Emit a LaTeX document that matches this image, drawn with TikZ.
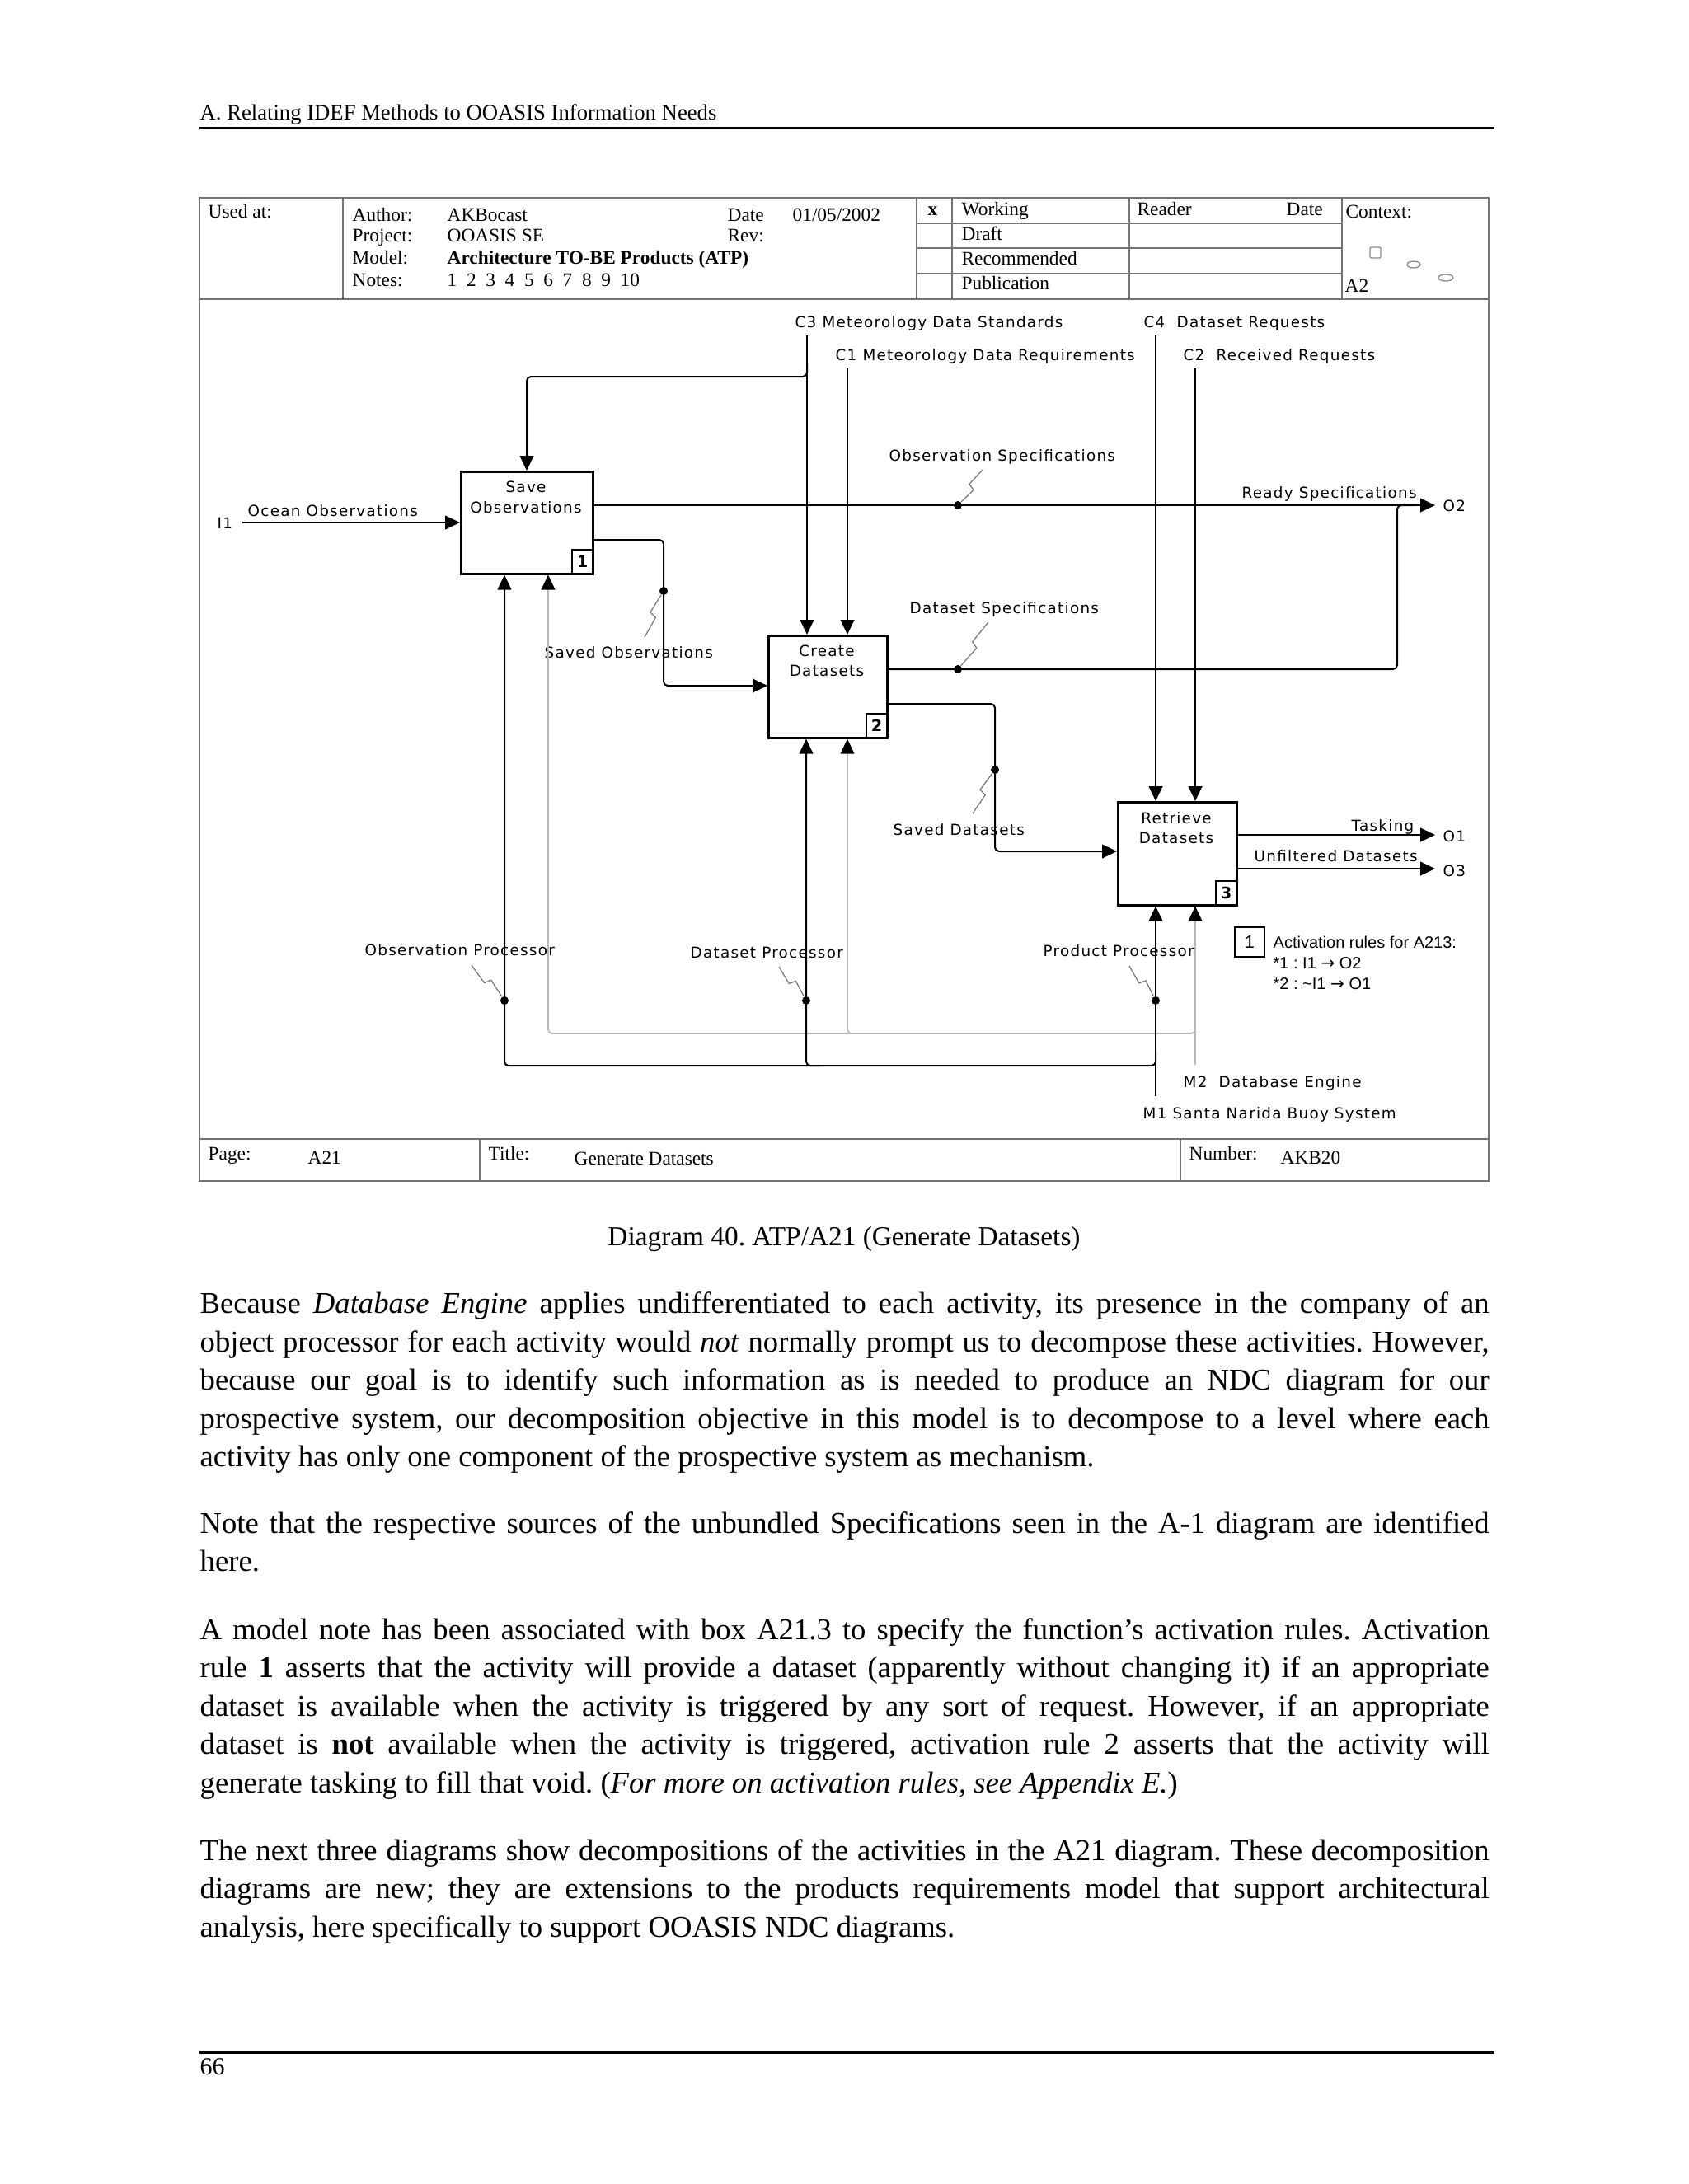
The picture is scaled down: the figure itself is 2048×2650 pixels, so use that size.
\documentclass[tikz,border=0pt]{standalone}
\usepackage{fontspec}
\setmainfont{Liberation Serif}
\newfontfamily\dvfont[LetterSpace=7]{DejaVu Sans}
\newfontfamily\dvplain{DejaVu Sans}
\newfontfamily\arfont{Liberation Sans}
\usetikzlibrary{arrows.meta,calc}
\frenchspacing
\newcommand\zig[2]{\draw[sq] (#1) -- ($(#1)!0.5!(#2)!1.5pt!-90:(#2)$) -- ($(#1)!0.55!(#2)!1pt!90:(#2)$) -- (#2);}
\tikzset{
  lbl/.style={font=\dvfont\fontsize{5.5}{6.6}\selectfont, inner sep=0pt, anchor=base west},
  boxlbl/.style={font=\dvfont\fontsize{5.5}{6.6}\selectfont, inner sep=0pt, anchor=base},
  hdr/.style={font=\fontsize{7}{8}\selectfont, inner sep=0pt, anchor=base west},
  abox/.style={draw, line width=0.75pt, inner sep=0pt, anchor=north west},
  numbox/.style={draw, line width=0.6pt, inner sep=0pt, minimum width=7.8pt, minimum height=9pt, anchor=south east, font=\dvplain\bfseries\fontsize{5.8}{6}\selectfont},
  ln/.style={line width=0.6pt, black},
  gln/.style={line width=0.5pt, color=black!28},
  dot/.style={circle, fill=black, inner sep=0pt, minimum size=3pt},
  sq/.style={line width=0.35pt, color=black!55},
  frame/.style={line width=0.55pt, color=black!55},
  body/.style={font=\fontsize{11}{13.94}\selectfont, text width=469.1pt, align=justify, inner sep=0pt, anchor=north west,
    execute at begin node={\frenchspacing\tolerance=10000\hyphenpenalty=10000\exhyphenpenalty=10000}},
  note/.style={font=\arfont\fontsize{6}{7}\selectfont, inner sep=0pt, anchor=base west},
  >={Triangle[length=5.4pt,width=5pt,color=black]},
}
\begin{document}
\begin{tikzpicture}[x=0.29994pt,y=-0.29994pt]
\fill[white] (0,0) rectangle (2048,2650);
\useasboundingbox (0,0) rectangle (2048,2650);

% ---------- page header ----------
\node[font=\fontsize{8}{9.6}\selectfont, inner sep=0pt, anchor=base west] (phead) at (242,145) {A. Relating IDEF Methods to OOASIS Information Needs};
\draw[line width=0.9pt] (242,155) -- (1813,155);

% ---------- diagram frame ----------
\draw[frame] (242,240) rectangle (1806,1433);
\draw[frame] (242,363) -- (1806,363);
\draw[frame] (416,240) -- (416,363);
\draw[frame] (1112,240) -- (1112,363);
\draw[frame] (1155,240) -- (1155,363);
\draw[frame] (1370,240) -- (1370,363);
\draw[frame] (1628,240) -- (1628,363);
\foreach \yy in {271,301,332} \draw[frame] (1112,\yy) -- (1628,\yy);
\draw[frame] (242,1382) -- (1806,1382);
\draw[frame] (582,1382) -- (582,1433);
\draw[frame] (1432,1382) -- (1432,1433);

% header text
\node[hdr] (hused) at (252,264) {Used at:};
\node[hdr] (hauth) at (427,268) {Author:};
\node[hdr] (hproj) at (427,293) {Project:};
\node[hdr] (hmod) at (427,320) {Model:};
\node[hdr] (hnot) at (427,347) {Notes:};
\node[hdr] (vauth) at (542,268) {AKBocast};
\node[hdr] (vproj) at (542,293) {OOASIS SE};
\node[hdr, font=\bfseries\fontsize{7}{8}\selectfont] (vmod) at (542,320) {Architecture TO-BE Products (ATP)};
\node[hdr] (vnot) at (542,347) {1~~2~~3~~4~~5~~6~~7~~8~~9~~10};
\node[hdr] (hdate) at (882,268) {Date};
\node[hdr] (vdate) at (961,268) {01/05/2002};
\node[hdr] (hrev) at (882,293) {Rev:};
\node[hdr, font=\bfseries\fontsize{7}{8}\selectfont] (hx) at (1125,261) {x};
\node[hdr] (hwork) at (1166,261) {Working};
\node[hdr] (hdraft) at (1166,291) {Draft};
\node[hdr] (hrec) at (1166,321) {Recommended};
\node[hdr] (hpub) at (1166,351) {Publication};
\node[hdr] (hread) at (1379,261) {Reader};
\node[hdr] (hdate2) at (1560,261) {Date};
\node[hdr] (hctx) at (1632,264) {Context:};
\node[hdr] (hA2) at (1631,354) {A2};
\draw[line width=0.4pt, black!45, rounded corners=0.4pt] (1662,300) rectangle (1675,313);
\draw[line width=0.4pt, black!45] (1715,321) ellipse (8 and 4);
\draw[line width=0.4pt, black!45] (1754,337) ellipse (9 and 4);

% bottom bar text
\node[hdr] (hpage) at (252,1407) {Page:};
\node[hdr] (vpage) at (373,1412) {A21};
\node[hdr] (htitle) at (592,1407) {Title:};
\node[hdr] (vtitle) at (696,1413) {Generate Datasets};
\node[hdr] (hnum) at (1442,1407) {Number:};
\node[hdr] (vnum) at (1553,1412) {AKB20};

% ---------- activity boxes ----------
\node[abox, minimum width=48pt, minimum height=37.2pt] (b1) at (558,571) {};
\node[abox, minimum width=43.2pt, minimum height=37.2pt] (b2) at (931,770) {};
\node[abox, minimum width=43.2pt, minimum height=37.5pt] (b3) at (1355,972) {};
\node[numbox] (n1) at (b1.south east) {1};
\node[numbox] (n2) at (b2.south east) {2};
\node[numbox] (n3) at (b3.south east) {3};
\node[boxlbl] (b1a) at (638,597) {Save};
\node[boxlbl] (b1b) at (638,622) {Observations};
\node[boxlbl] (b2a) at (1003,796) {Create};
\node[boxlbl] (b2b) at (1003,820) {Datasets};
\node[boxlbl] (b3a) at (1427,999) {Retrieve};
\node[boxlbl] (b3b) at (1427,1023) {Datasets};

% ---------- labels ----------
\node[lbl] (tC3) at (964,397) {C3 Meteorology Data Standards};
\node[lbl] (tC1) at (1013,437) {C1 Meteorology Data Requirements};
\node[lbl] (tC4) at (1387,397) {C4\ \ Dataset Requests};
\node[lbl] (tC2) at (1435,437) {C2\ \ Received Requests};
\node[lbl] (tOS) at (1078,559) {Observation Specifications};
\node[lbl] (tRS) at (1506,604) {Ready Specifications};
\node[lbl] (tO2) at (1750,620) {O2};
\node[lbl] (tOO) at (300,626) {Ocean Observations};
\node[lbl] (tI1) at (263,641) {I1};
\node[lbl] (tSO) at (660,798) {Saved Observations};
\node[lbl] (tDS) at (1103,744) {Dataset Specifications};
\node[lbl] (tSD) at (1083,1013) {Saved Datasets};
\node[lbl] (tTk) at (1639,1008) {Tasking};
\node[lbl] (tO1) at (1750,1021) {O1};
\node[lbl] (tUD) at (1521,1045) {Unfiltered Datasets};
\node[lbl] (tO3) at (1750,1063) {O3};
\node[lbl] (tOP) at (442,1159) {Observation Processor};
\node[lbl] (tDP) at (837,1162) {Dataset Processor};
\node[lbl] (tPP) at (1265,1160) {Product Processor};
\node[lbl] (tM2) at (1435,1319) {M2\ \ Database Engine};
\node[lbl] (tM1) at (1386,1357) {M1 Santa Narida Buoy System};

% free ends
\coordinate (I1e) at (294,634);
\coordinate (C3s) at (979,407);
\coordinate (C1s) at (1028,447);
\coordinate (C4s) at (1402,407);
\coordinate (C2s) at (1450,447);
\coordinate (O2e) at (1741,613);
\coordinate (O1e) at (1741,1013);
\coordinate (O3e) at (1741,1054);
\coordinate (M1s) at (1402,1330);
\coordinate (M2s) at (1450,1292);

% ---------- connectors ----------
\draw[ln,->] (I1e) -- (I1e -| b1.west);
\draw[ln,->] (b1.east |- 0,613) -- (O2e);
\draw[ln,->,rounded corners=1.5pt] (b1.east |- 0,655) -- (805,655) -- (805,832) -- (b2.west |- 0,832);
\draw[ln,->] (C3s) -- (C3s |- b2.north);
\draw[ln,->,rounded corners=1.5pt] (979,440) -- (979,457) -- (639,457) -- (639,0 |- b1.north);
\draw[ln,->] (C1s) -- (C1s |- b2.north);
\draw[ln,rounded corners=1.5pt] (b2.east |- 0,812) -- (1695,812) -- (1695,613) -- (1715,613);
\draw[ln,->,rounded corners=1.5pt] (b2.east |- 0,854) -- (1207,854) -- (1207,1033) -- (b3.west |- 0,1033);
\draw[ln,->] (C4s) -- (C4s |- b3.north);
\draw[ln,->] (C2s) -- (C2s |- b3.north);
\draw[ln,->] (b3.east |- 0,1013) -- (O1e);
\draw[ln,->] (b3.east |- 0,1054) -- (O3e);
% mechanisms
\draw[gln,->] (M2s) -- (M2s |- b3.south);
\draw[gln,->,rounded corners=1.5pt] (1450,1238) -- (1450,1254) -- (665,1254) -- (665,0 |- b1.south);
\draw[gln,->,rounded corners=1.5pt] (1045,1254) -- (1028,1254) -- (1028,0 |- b2.south);
\draw[ln,->] (M1s) -- (M1s |- b3.south);
\draw[ln,->,rounded corners=1.5pt] (1402,1277) -- (1402,1293) -- (612,1293) -- (612,0 |- b1.south);
\draw[ln,->,rounded corners=1.5pt] (995,1293) -- (978,1293) -- (978,0 |- b2.south);

% dots and squiggles
\node[dot] (d1) at (805,717) {};
\node[dot] (d2) at (1162,613) {};
\node[dot] (d3) at (1162,812) {};
\node[dot] (d4) at (1207,934) {};
\node[dot] (d5) at (612,1214) {};
\node[dot] (d6) at (978,1214) {};
\node[dot] (d7) at (1402,1214) {};
\coordinate (s1) at (782,773);
\coordinate (s2) at (1192,570);
\coordinate (s3) at (1199,755);
\coordinate (s4) at (1180,987);
\coordinate (s5) at (572,1171);
\coordinate (s6) at (945,1173);
\coordinate (s7) at (1370,1172);
\zig{d1}{s1}
\zig{d2}{s2}
\zig{d3}{s3}
\zig{d4}{s4}
\zig{d5}{s5}
\zig{d6}{s6}
\zig{d7}{s7}

% activation note
\node[draw, line width=0.6pt, minimum size=10.8pt, inner sep=0pt, anchor=north west, font=\arfont\fontsize{6.5}{7}\selectfont] (nb) at (1497,1124) {1};
\node[note] (nt1) at (1544,1150) {Activation rules for A213:};
\node[note] (nt2) at (1544,1175) {*1 : I1 {\dvplain →} O2};
\node[note] (nt3) at (1544,1200) {*2 : \textasciitilde I1 {\dvplain →} O1};

% ---------- caption and body ----------
\node[font=\fontsize{10}{12}\selectfont, anchor=base, inner sep=0pt] (cap) at (1024,1511) {Diagram 40. ATP/A21 (Generate Datasets)};

\node[body] (p1) at (242,1560.5) {\noindent\strut Because \textit{Database Engine} applies undifferentiated to each activity, its presence in the company of an\linebreak object processor for each activity would \textit{not} normally prompt us to decompose these activities. However,\linebreak because our goal is to identify such information as is needed to produce an NDC diagram for our\linebreak prospective system, our decomposition objective in this model is to decompose to a level where each\linebreak activity has only one component of the prospective system as mechanism.};

\node[body] (p2) at (242,1827) {\noindent\strut Note that the respective sources of the unbundled Specifications seen in the A-1 diagram are identified\linebreak here.};

\node[body] (p3) at (242,1956) {\noindent\strut A model note has been associated with box A21.3 to specify the function’s activation rules. Activation\linebreak rule \textbf{1} asserts that the activity will provide a dataset (apparently without changing it) if an appropriate\linebreak dataset is available when the activity is triggered by any sort of request. However, if an appropriate\linebreak dataset is \textbf{not} available when the activity is triggered, activation rule 2 asserts that the activity will\linebreak generate tasking to fill that void. (\textit{For more on activation rules, see Appendix E.})};

\node[body] (p4) at (242,2224) {\noindent\strut The next three diagrams show decompositions of the activities in the A21 diagram. These decomposition\linebreak diagrams are new; they are extensions to the products requirements model that support architectural\linebreak analysis, here specifically to support OOASIS NDC diagrams.};

% ---------- footer ----------
\draw[line width=0.9pt] (242,2490) -- (1813,2490);
\node[font=\fontsize{9}{11}\selectfont, inner sep=0pt, anchor=base west] (pnum) at (242,2517) {66};
\end{tikzpicture}
\end{document}
